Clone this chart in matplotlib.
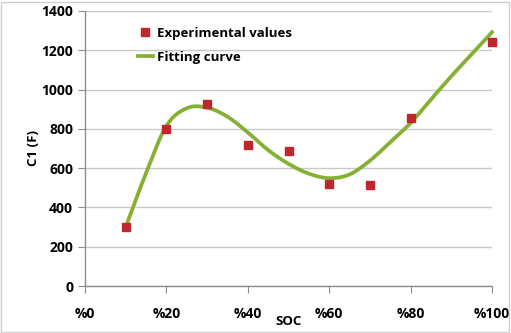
import matplotlib.pyplot as plt
import numpy as np

plt.rcParams['font.family'] = ['Open Sans', 'DejaVu Sans']

# experimental points
soc_exp = [10, 20, 30, 40, 50, 60, 70, 80, 100]
c1_exp = [302, 800, 927, 717, 685, 519, 515, 855, 1242]

# fitting curve, read every 5 %
soc_fit = [10, 15, 20, 25, 30, 35, 40, 45, 50, 55, 60, 65, 70, 75, 80, 85, 90, 95, 100]
c1_fit = [300, 575, 815, 905, 908, 862, 782, 692, 622, 572, 549, 568, 638, 732, 830, 950, 1068, 1180, 1292]

xticks = [0, 20, 40, 60, 80, 100]
xtick_labels = ['%0', '%20', '%40', '%60', '%80', '%100']


def smooth(x, y, n=20):
    # Catmull-Rom like smoothing, as the spreadsheet "smoothed line"
    x = np.asarray(x, float)
    y = np.asarray(y, float)
    px = np.concatenate([[2 * x[0] - x[1]], x, [2 * x[-1] - x[-2]]])
    py = np.concatenate([[2 * y[0] - y[1]], y, [2 * y[-1] - y[-2]]])
    xs, ys = [], []
    t = np.linspace(0, 1, n, endpoint=False)
    for i in range(1, len(px) - 2):
        for arr, out in ((px, xs), (py, ys)):
            p0, p1, p2, p3 = arr[i - 1], arr[i], arr[i + 1], arr[i + 2]
            out.extend(0.5 * (2 * p1 + (-p0 + p2) * t
                              + (2 * p0 - 5 * p1 + 4 * p2 - p3) * t ** 2
                              + (-p0 + 3 * p1 - 3 * p2 + p3) * t ** 3))
    xs.append(x[-1])
    ys.append(y[-1])
    return xs, ys


fig = plt.figure(figsize=(5.11, 3.33), dpi=100)
ax = fig.add_axes([85 / 511, 1 - 286 / 333, (492 - 85) / 511, (286 - 11) / 333])

sx, sy = smooth(soc_fit, c1_fit)
ax.plot(soc_exp, c1_exp, 's', color='#c0272d', markersize=5.5, label='Experimental values',
        zorder=3, clip_on=False)
ax.plot(sx, sy, '-', color='#86b033', linewidth=2.7, label='Fitting curve', zorder=2,
        clip_on=False)

ax.set_xlim(0, 100)
ax.set_ylim(0, 1400)
ax.set_yticks(range(0, 1401, 200))
ax.set_xticks(xticks)
ax.set_xticklabels(xtick_labels)
ax.yaxis.grid(True, color='#c8c8c8', linewidth=1)
ax.set_axisbelow(True)
for s in ['top', 'right']:
    ax.spines[s].set_visible(False)
for s in ['left', 'bottom']:
    ax.spines[s].set_color('#8c8c8c')
    ax.spines[s].set_linewidth(1)
ax.tick_params(direction='out', length=5, color='#8c8c8c', labelsize=10)
ax.tick_params(axis='x', pad=10)
for lab in ax.get_xticklabels() + ax.get_yticklabels():
    lab.set_fontweight('bold')

ax.set_xlabel('SOC', fontsize=9.5, fontweight='bold', labelpad=-4)
ax.set_ylabel('C1 (F)', fontsize=9.5, fontweight='bold', labelpad=1)

ax.legend(loc='upper left', bbox_to_anchor=(0.1, 0.985), frameon=False,
          prop={'weight': 'bold', 'size': 9.5}, handlelength=1.2,
          handletextpad=0.3, labelspacing=0.8)

fig.patches.append(plt.Rectangle((0.002, 0.004), 0.994, 0.99, transform=fig.transFigure,
                                 fill=False, edgecolor='#d0d0d0', linewidth=1))

fig.savefig('out.png', dpi=100)
